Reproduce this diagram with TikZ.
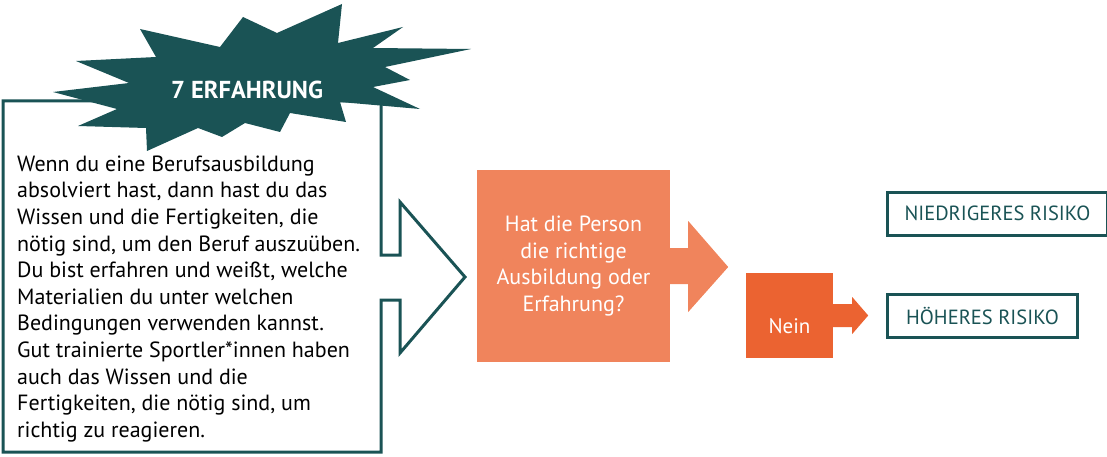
\documentclass[tikz,border=0pt]{standalone}
\usepackage{fontspec}
\setmainfont{PT Sans}
\definecolor{EXPteal}{HTML}{1A5355}
\definecolor{EXPorange}{HTML}{F0845C}
\definecolor{EXPred}{HTML}{EB6331}
\usetikzlibrary{calc, positioning}

\begin{document}
\begin{tikzpicture}[x=1pt, y=-1pt,
      riskbox/.style={draw=EXPteal, line width=3pt, text=EXPteal, anchor=west,
         font=\fontsize{20.5}{24}\selectfont, minimum height=43pt, inner sep=0pt}]
      \useasboundingbox (0,0) rectangle (1107,457);
      % Callout box with arrow
      \draw[EXPteal, line width=3pt] (3,101) -- (381,101) -- (381,255) -- (400,255)
         -- (400,202) -- (465,277) -- (400,353) -- (400,300) -- (381,300)
         -- (381,452) -- (3,452) -- cycle;
      \node[anchor=north west, align=left, inner sep=0pt,
         font=\fontsize{22}{26.6}\selectfont] (txt) at (17,155.5)
         {Wenn du eine Berufsausbildung\\
          absolviert hast, dann hast du das\\
          Wissen und die Fertigkeiten, die\\
          nötig sind, um den Beruf auszuüben.\\
          Du bist erfahren und weißt, welche\\
          Materialien du unter welchen\\
          Bedingungen verwenden kannst.\\
          Gut trainierte Sportler*innen haben\\
          auch das Wissen und die\\
          Fertigkeiten, die nötig sind, um\\
          richtig zu reagieren.};
      % Star
      \fill[EXPteal] (140,29) -- (156,57) -- (76,61) -- (129,83) -- (53,92) -- (117,109)
         -- (78,126) -- (146,128) -- (147,151) -- (198,128) -- (222,137) -- (245,123)
         -- (280,132) -- (290,113) -- (346,122) -- (340,102) -- (420,109) -- (373,87)
         -- (410,80) -- (385,67) -- (471,49) -- (373,48) -- (403,27) -- (338,43)
         -- (342,4) -- (277,33) -- (243,17) -- (220,47) -- cycle;
      \node[text=white, font=\bfseries\fontsize{24.5}{28}\selectfont] (title) at (247,90) {7 ERFAHRUNG};
      % Question
      \node[fill=EXPorange, minimum width=193pt, minimum height=192pt, inner sep=0pt,
         text=white, align=center, font=\fontsize{22}{26.7}\selectfont] (q) at (573.5,266)
         {Hat die Person\\die richtige\\Ausbildung oder\\Erfahrung?};
      \fill[EXPorange] ($(q.east)+(-1,-18)$) -- ++(19,0) -- ++(0,-27) -- ($(q.east)+(58,1)$)
         -- ($(q.east)+(18,46)$) -- ++(0,-28) -- ($(q.east)+(-1,18)$) -- cycle;
      % Nein
      \node[fill=EXPred, minimum width=87pt, minimum height=85pt, inner sep=0pt] (nein) at (789.5,315.5) {};
      \node[text=white, font=\fontsize{21}{25}\selectfont] (neintext) at ($(nein.center)+(0,11)$) {Nein};
      \fill[EXPred] ($(nein.east)+(-1,-11.5)$) -- ++(20,0) -- ++(0,-7) -- ($(nein.east)+(35,0)$)
         -- ($(nein.east)+(19,18.5)$) -- ++(0,-7) -- ($(nein.east)+(-1,11.5)$) -- cycle;
      % Risk boxes
      \node[riskbox, minimum width=220pt] (low) at (886,213.5) {NIEDRIGERES RISIKO};
      \node[riskbox, minimum width=190pt] (high) at (886,316) {HÖHERES RISIKO};
\end{tikzpicture}
\end{document}
